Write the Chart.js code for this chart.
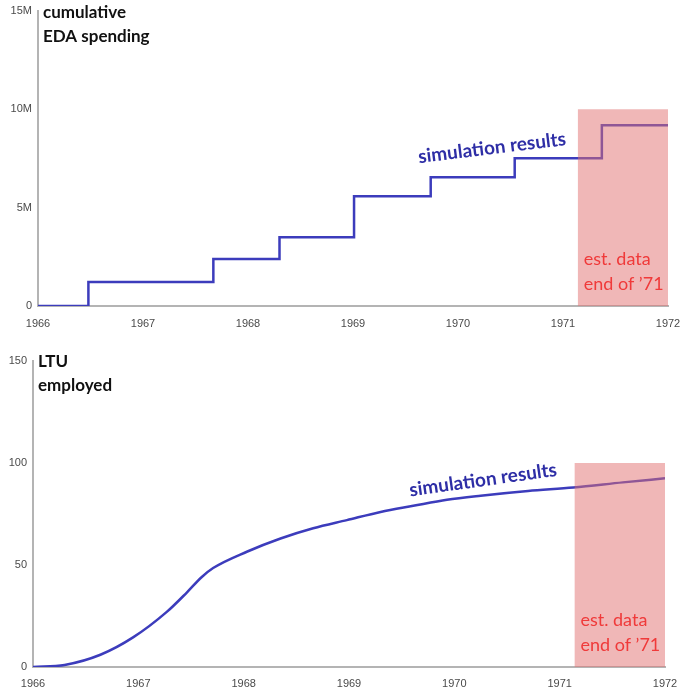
<!DOCTYPE html>
<html>
<head>
<meta charset="utf-8">
<script src="https://cdn.jsdelivr.net/npm/chart.js@4/dist/chart.umd.min.js"></script>
<style>
  body { margin: 0; background: #fff; }
  .box { position: absolute; left: 0; width: 680px; }
  #top { top: 0; height: 335px; }
  #bottom { top: 340px; height: 352px; }
</style>
</head>
<body>
<div class="box" id="top"><canvas id="spendChart" width="680" height="335"></canvas></div>
<div class="box" id="bottom"><canvas id="ltuChart" width="680" height="352"></canvas></div>
<script>
// cumulative EDA spending (step function)
const spendYears = [1966, 1966.48, 1967.67, 1968.30, 1969.01, 1969.74, 1970.54, 1971.37, 1972];
const spendValues = [0, 1.22e6, 2.39e6, 3.50e6, 5.58e6, 6.55e6, 7.51e6, 9.19e6, 9.19e6];

// LTU employed
const ltuYears = [1966, 1966.3, 1966.64, 1966.95, 1967.27, 1967.46, 1967.6, 1967.71, 1968.03, 1968.35,
                  1968.66, 1968.98, 1969.3, 1969.61, 1969.93, 1970.25, 1970.7, 1971.13, 1971.6, 1972];
const ltuValues = [0, 1, 6, 14.5, 27, 36.5, 44, 48.5, 56.5, 63,
                   68, 72, 76, 79, 82, 84, 86.3, 88, 90.5, 92.5];

// estimated data window (end of '71)
const estYears = [1971.14, 1972];
const estSpend = [10e6, 10e6];
const estLtu = [100, 100];

const xMin = 1966, xMax = 1972;

const lineColor = '#3c3cbc';
const pinkFill = 'rgba(226, 112, 112, 0.5)';
const tickFont = { family: 'Liberation Sans', size: 11 };

function pts(xs, ys) {
    return xs.map((x, i) => ({ x: x, y: ys[i] }));
}

function xScale(axisHeight, pad) {
    return {
        type: 'linear',
        min: xMin,
        max: xMax,
        grid: { display: false, drawTicks: false },
        border: { display: true, color: '#b4b4b4', width: 2 },
        ticks: { stepSize: 1, padding: pad, color: '#4a4a4a', font: tickFont, callback: v => String(v) },
        afterFit: s => { s.height = axisHeight; s.paddingLeft = 0; s.paddingRight = 0; }
    };
}

function yScale(max, step, axisWidth, fmt) {
    return {
        min: 0,
        max: max,
        grid: { display: false, drawTicks: false },
        border: { display: true, color: '#b4b4b4', width: 2 },
        ticks: { stepSize: step, padding: 6, color: '#4a4a4a', font: tickFont, callback: fmt },
        afterFit: s => { s.width = axisWidth; s.paddingTop = 0; s.paddingBottom = 0; }
    };
}

function labels(title, simPos, simAngle) {
    return {
        id: 'labels',
        afterDatasetsDraw(chart) {
            const ctx = chart.ctx;
            const xs = chart.scales.x, ys = chart.scales.y;
            ctx.save();
            // title
            ctx.fillStyle = '#111';
            ctx.font = 'bold 17px Lato';
            ctx.textAlign = 'left';
            ctx.textBaseline = 'middle';
            ctx.fillText(title.lines[0], title.x, title.y);
            ctx.fillText(title.lines[1], title.x, title.y + 24);
            // est. data note
            ctx.fillStyle = '#f03a3a';
            ctx.font = '18px Lato';
            const ex = xs.getPixelForValue(estYears[0]) + 6;
            const ey = ys.getPixelForValue(0);
            ctx.fillText('est. data', ex, ey - 47);
            ctx.fillText('end of \u201971', ex, ey - 22);
            // simulation results
            ctx.fillStyle = '#2e2ea6';
            ctx.font = 'bold 19px Lato';
            ctx.textAlign = 'center';
            ctx.translate(simPos[0], simPos[1]);
            ctx.rotate(-simAngle * Math.PI / 180);
            ctx.fillText('simulation results', 0, 0);
            ctx.restore();
        }
    };
}

new Chart(document.getElementById('spendChart').getContext('2d'), {
    type: 'line',
    data: {
        datasets: [{
            data: pts(estYears, estSpend),
            borderWidth: 0,
            pointRadius: 0,
            backgroundColor: pinkFill,
            fill: 'origin'
        }, {
            data: pts(spendYears, spendValues),
            borderColor: lineColor,
            borderWidth: 2.5,
            pointRadius: 0,
            stepped: true,
            fill: false
        }]
    },
    options: {
        responsive: false,
        animation: false,
        layout: { padding: { top: 11, right: 12, left: 0, bottom: 0 } },
        plugins: { legend: { display: false }, tooltip: { enabled: false } },
        scales: {
            x: xScale(29, 11),
            y: yScale(15e6, 5e6, 38, v => v === 0 ? '0' : (v / 1e6) + 'M')
        }
    },
    plugins: [labels({ lines: ['cumulative', 'EDA spending'], x: 43, y: 13 }, [492, 148], 7)]
});

new Chart(document.getElementById('ltuChart').getContext('2d'), {
    type: 'line',
    data: {
        datasets: [{
            data: pts(estYears, estLtu),
            borderWidth: 0,
            pointRadius: 0,
            backgroundColor: pinkFill,
            fill: 'origin'
        }, {
            data: pts(ltuYears, ltuValues),
            borderColor: lineColor,
            borderWidth: 2.5,
            pointRadius: 0,
            cubicInterpolationMode: 'monotone',
            fill: false
        }]
    },
    options: {
        responsive: false,
        animation: false,
        layout: { padding: { top: 21, right: 15, left: 0, bottom: 0 } },
        plugins: { legend: { display: false }, tooltip: { enabled: false } },
        scales: {
            x: xScale(25, 10),
            y: yScale(150, 50, 33, v => String(v))
        }
    },
    plugins: [labels({ lines: ['LTU', 'employed'], x: 38, y: 22 }, [483, 140], 8)]
});
</script>
</body>
</html>
